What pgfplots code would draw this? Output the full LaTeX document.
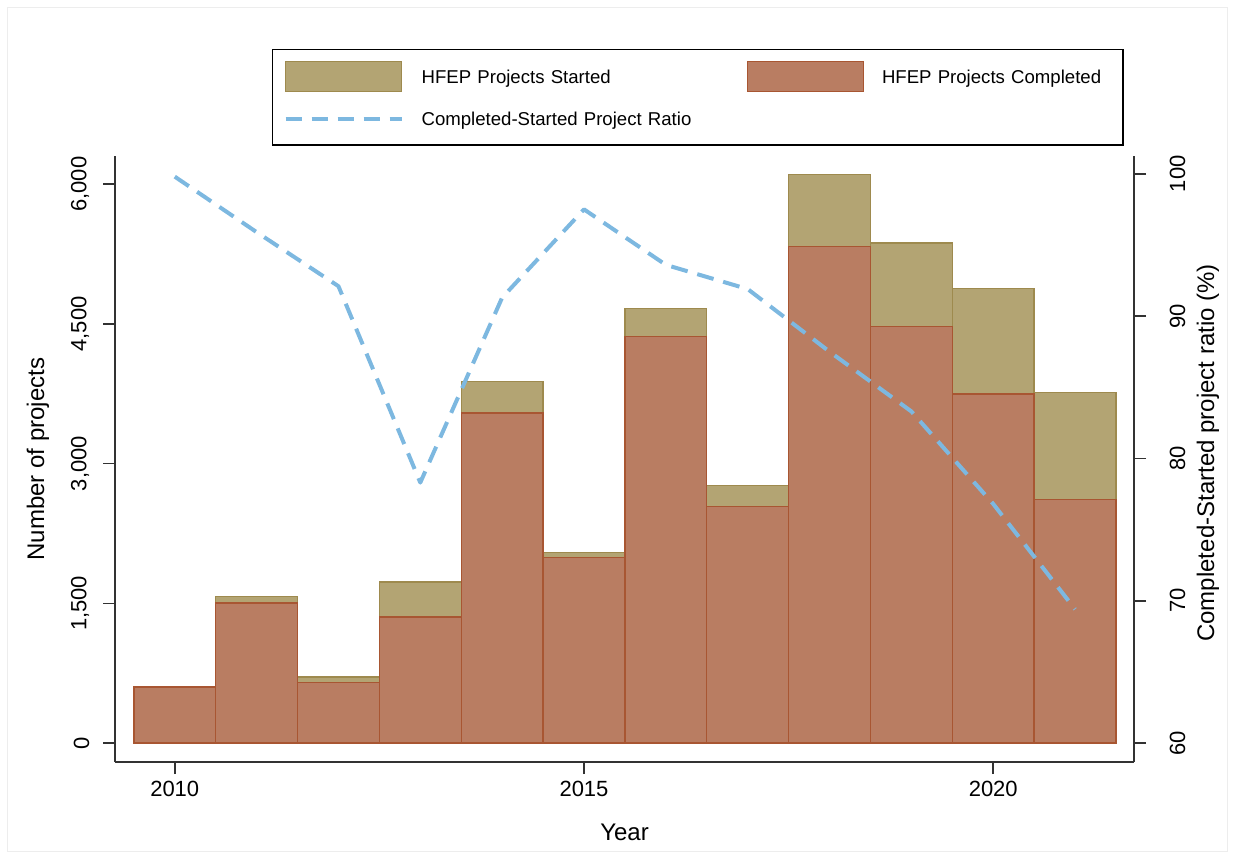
\documentclass[border=0pt]{standalone}
\usepackage{pgfplots}
\pgfplotsset{compat=1.18}
\usepackage{pgfplotstable}
\usepackage{fontspec}
\setmainfont{Liberation Sans}
\definecolor{startfill}{RGB}{179,164,115}
\definecolor{startedge}{RGB}{158,138,78}
\definecolor{compfill}{RGB}{185,125,98}
\definecolor{compedge}{RGB}{168,86,50}
\definecolor{ratiocol}{RGB}{125,184,224}
\definecolor{axcol}{RGB}{50,50,50}

\pgfplotstableread{
year started completed ratio
2010 601 601 99.8
2011 1574 1503 95.9
2012 709 651 92.1
2013 1731 1355 78.3
2014 3883 3543 91.3
2015 2043 1990 97.5
2016 4663 4366 93.6
2017 2766 2541 91.9
2018 6102 5333 87.5
2019 5369 4473 83.3
2020 4881 3747 76.8
2021 3765 2612 69.4
}\hfep

\pgfplotsset{
  common/.style={
    scale only axis, width=509.5pt, height=303pt,
    at={(57.5pt,48pt)}, anchor=south west,
    xmin=2009.27, xmax=2021.72,
    tick align=outside, major tick length=6pt,
    axis line style={-, draw=axcol, line width=0.8pt},
    major tick style={draw=axcol, line width=0.8pt},
    /pgf/number format/assume math mode=true,
    tick label style={font=\fontsize{11}{13}\selectfont},
    label style={font=\fontsize{12}{14}\selectfont},
  }
}

\begin{document}
\begin{tikzpicture}
\useasboundingbox (0,0) rectangle (617pt,429pt);
\draw[black!7, line width=0.5pt] (3.5pt,3.5pt) rectangle (613.5pt,425pt);

\begin{axis}[common,
  axis x line*=bottom, axis y line*=left,
  ymin=-204, ymax=6303,
  ytick={0,1500,3000,4500,6000},
  yticklabels={0,{1,500},{3,000},{4,500},{6,000}},
  yticklabel style={rotate=90, anchor=south, inner ysep=6.7pt},
  xtick={2010,2015,2020},
  xticklabels={2010,2015,2020},
  ylabel={Number of projects},
  ylabel style={at={(axis description cs:-0.0756,0.5)}, anchor=center, rotate=0},
  xlabel={Year},
  xlabel style={at={(axis description cs:0.5,-0.1155)}, anchor=center},
  legend columns=2,
  legend style={at={(axis description cs:0.15407,1.17657)}, anchor=north west,
    draw=black, line width=0.6pt, fill=white,
    inner xsep=5.5pt, inner ysep=5.5pt, row sep=6pt,
    font=\fontsize{9.3}{11}\selectfont,
    cells={anchor=west},
    nodes={inner xsep=0pt, inner ysep=0pt, minimum height=15pt, text depth=0pt},
    /tikz/every odd column/.append style={column sep=9pt},
    /tikz/column 2/.append style={nodes={text width=162.5pt}},
    /tikz/column 4/.append style={nodes={text width=115pt}},
  },
]
\addplot[ybar, bar width=1, bar shift=0pt, fill=startfill, draw=startedge, line width=0.7pt,
  legend image code/.code={\draw[fill=startfill, draw=startedge, line width=0.7pt] (0pt,-7.5pt) rectangle (58pt,7.5pt);}]
  table[x=year, y=started] {\hfep};
\addlegendentry{HFEP Projects Started}
\addplot[ybar, bar width=1, bar shift=0pt, fill=compfill, draw=compedge, line width=0.7pt,
  legend image code/.code={\draw[fill=compfill, draw=compedge, line width=0.7pt] (0pt,-7.5pt) rectangle (58pt,7.5pt);}]
  table[x=year, y=completed] {\hfep};
\addlegendentry{HFEP Projects Completed}
\addlegendimage{ratiocol, line width=2pt, dash pattern=on 8pt off 5pt,
  legend image code/.code={\draw[ratiocol, line width=2pt, dash pattern=on 8pt off 5pt] (0pt,0pt) -- (58pt,0pt);}}
\addlegendentry{Completed-Started Project Ratio}
\end{axis}

\begin{axis}[common,
  axis x line=none, axis y line*=right,
  ymin=58.665, ymax=101.25,
  ytick={60,70,80,90,100},
  yticklabel style={rotate=90, anchor=north, inner ysep=11.7pt},
  ylabel={Completed-Started project ratio (\%)},
  ylabel style={at={(axis description cs:1.0726,0.51)}, anchor=center, rotate=0},
]
\addplot[ratiocol, line width=2pt, dash pattern=on 8.5pt off 5pt, line join=round, line cap=butt]
  table[x=year, y=ratio] {\hfep};
\end{axis}
\end{tikzpicture}
\end{document}
